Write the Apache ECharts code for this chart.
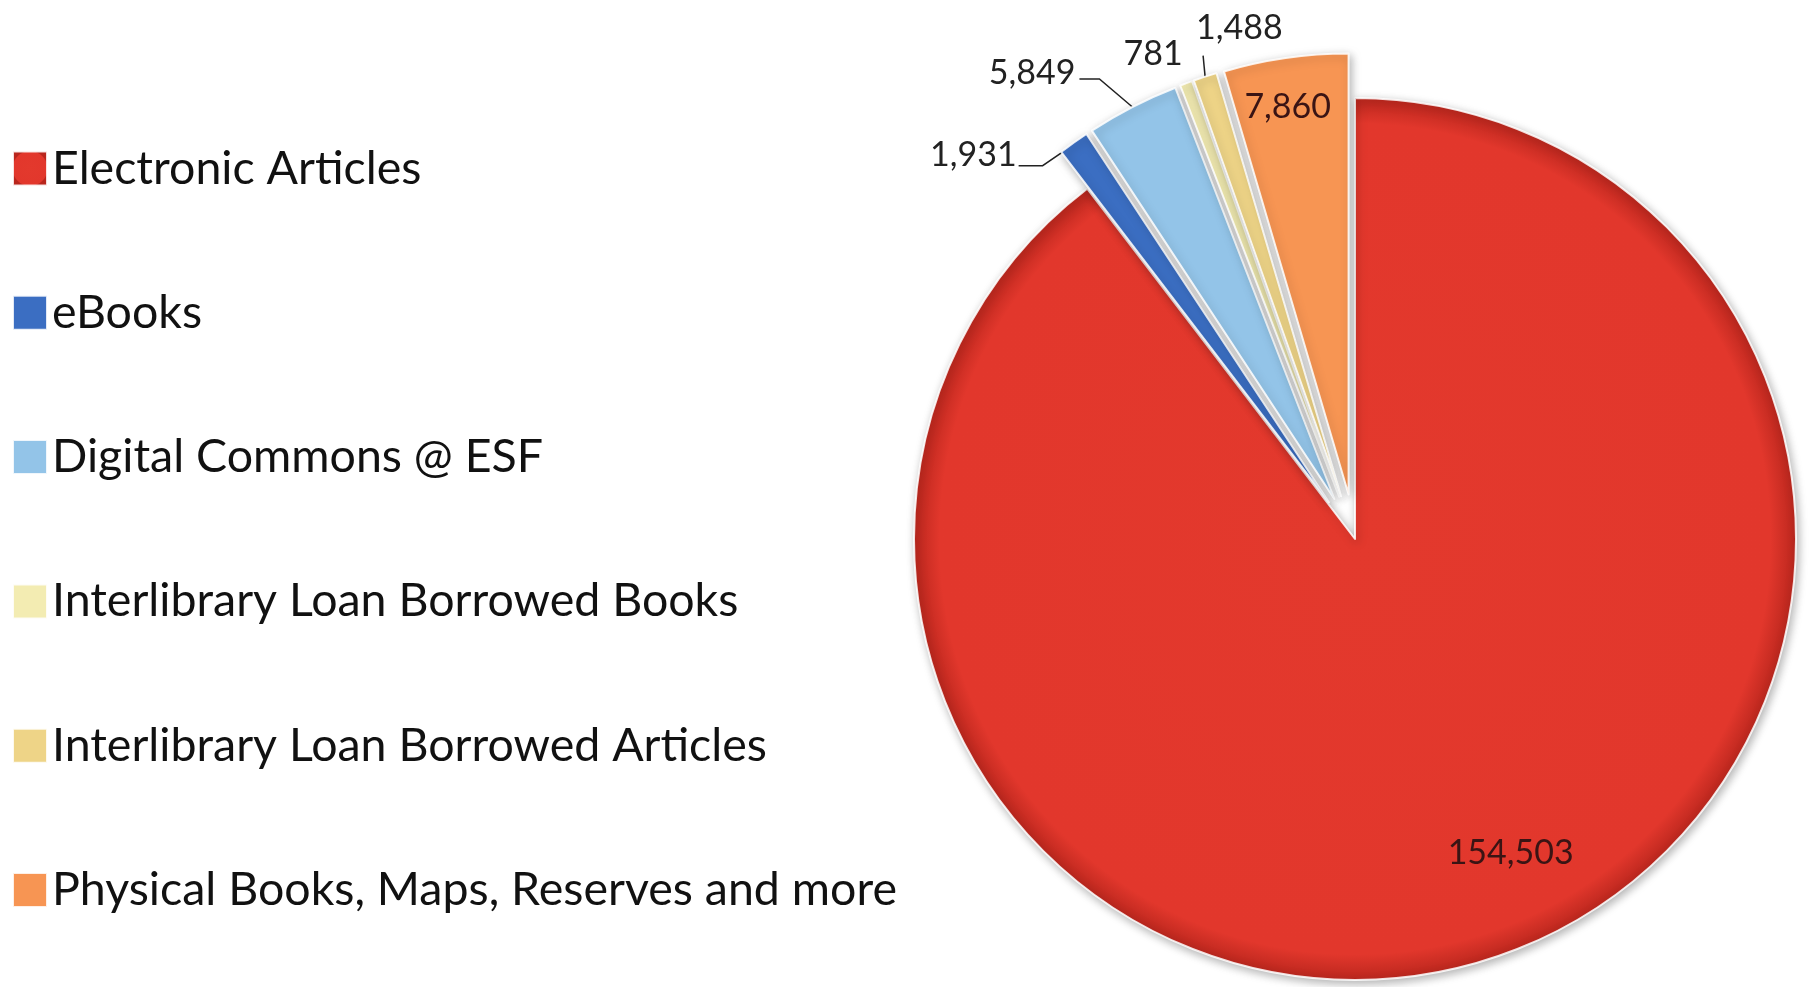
<!DOCTYPE html>
<html>
<head>
<meta charset="utf-8">
<script src="https://cdn.jsdelivr.net/npm/echarts@6/dist/echarts.min.js"></script>
<style>
html,body{margin:0;padding:0;background:#fff;}
#chart{width:1811px;height:987px;}
</style>
</head>
<body>
<div id="chart"></div>
<script>
const categories = [
  'Electronic Articles',
  'eBooks',
  'Digital Commons @ ESF',
  'Interlibrary Loan Borrowed Books',
  'Interlibrary Loan Borrowed Articles',
  'Physical Books, Maps, Reserves and more'
];
const values = [154503, 1931, 5849, 781, 1488, 7860];
const colors = ['#E2372C', '#3B6EC2', '#93C4E8', '#F3ECB2', '#EED487', '#F79553'];
const exploded = [false, true, true, true, true, true];

const chart = echarts.init(document.getElementById('chart'));

const insideLabel = [true, false, false, false, false, true];
const lineVisible = [false, true, true, false, true, false];

const data = values.map((v, i) => {
  const item = {
    name: categories[i],
    value: v,
    selected: exploded[i],
    itemStyle: {color: colors[i]},
    label: insideLabel[i] ? {position: 'inside', color: '#3a1414'} : {position: 'outside'},
    labelLine: insideLabel[i] ? {show: false} :
      {show: true, length: 20, length2: 20, lineStyle: {opacity: lineVisible[i] ? 1 : 0}}
  };
  if (i === 0) {
    item.itemStyle.color = {
      type: 'radial', x: 0.5, y: 0.5, r: 0.5,
      colorStops: [
        {offset: 0, color: '#E3392D'},
        {offset: 0.94, color: '#E2372C'},
        {offset: 1, color: '#B9261D'}
      ]
    };
  }
  return item;
});

// label placement tweaks, relative to the library-computed anchor on each slice
function layoutLabel(p) {
  const i = p.dataIndex;
  if (i === 0) return {dx: 84, dy: 102};
  if (i === 5) return {dx: -29, dy: -166};
  const pts = p.labelLinePoints;
  const r = p.labelRect;
  if (!pts || !r) return {};
  let a = pts[0];
  const cx = r.x + r.width / 2, cy = r.y + r.height / 2;
  const right = r.x + r.width, left = r.x;
  if (i === 1) {
    a = [a[0] - 9, a[1] + 8];
    const b = [a[0] - 22, a[1] + 15], c = [b[0] - 24, b[1]];
    return {dx: (c[0] - 2) - right, dy: (c[1] - 11) - cy, labelLinePoints: [a, b, c]};
  }
  if (i === 2) {
    const b = [a[0] - 33, a[1] - 28], c = [b[0] - 20, b[1]];
    return {dx: (c[0] - 4) - right, dy: (c[1] - 6) - cy, labelLinePoints: [a, b, c]};
  }
  if (i === 3) {
    return {dx: (a[0] - 33) - cx, dy: (a[1] - 29) - cy, labelLinePoints: [a, a, a]};
  }
  if (i === 4) {
    const b = [a[0] - 2, a[1] - 21];
    return {dx: (b[0] - 7) - left, dy: (b[1] - 28) - cy, labelLinePoints: [a, b, b]};
  }
  return {};
}

chart.setOption({
  animation: false,
  color: colors,
  legend: {
    orient: 'vertical',
    left: 12,
    top: 145,
    padding: 0,
    itemWidth: 34,
    itemHeight: 34,
    itemGap: 97.3,
    icon: 'rect',
    selectedMode: false,
    textStyle: {
      fontFamily: 'Lato',
      fontSize: 46.5,
      lineHeight: 46,
      color: '#111'
    },
    data: categories
  },
  series: [{
    type: 'pie',
    center: [1355, 539],
    radius: 441,
    startAngle: 90,
    clockwise: true,
    selectedMode: 'multiple',
    selectedOffset: 45,
    avoidLabelOverlap: false,
    itemStyle: {
      borderColor: 'rgba(255,255,255,0.85)',
      borderWidth: 2,
      shadowBlur: 10,
      shadowColor: 'rgba(0,0,0,0.3)',
      shadowOffsetX: 2,
      shadowOffsetY: 3
    },
    select: {itemStyle: {borderColor: 'rgba(255,255,255,0.85)', borderWidth: 2}},
    label: {
      fontFamily: 'Lato',
      fontSize: 34,
      color: '#222',
      formatter: p => p.value.toLocaleString('en-US')
    },
    labelLine: {lineStyle: {color: '#222', width: 1.5}},
    labelLayout: layoutLabel,
    emphasis: {disabled: true},
    data: data
  }]
});
</script>
</body>
</html>
